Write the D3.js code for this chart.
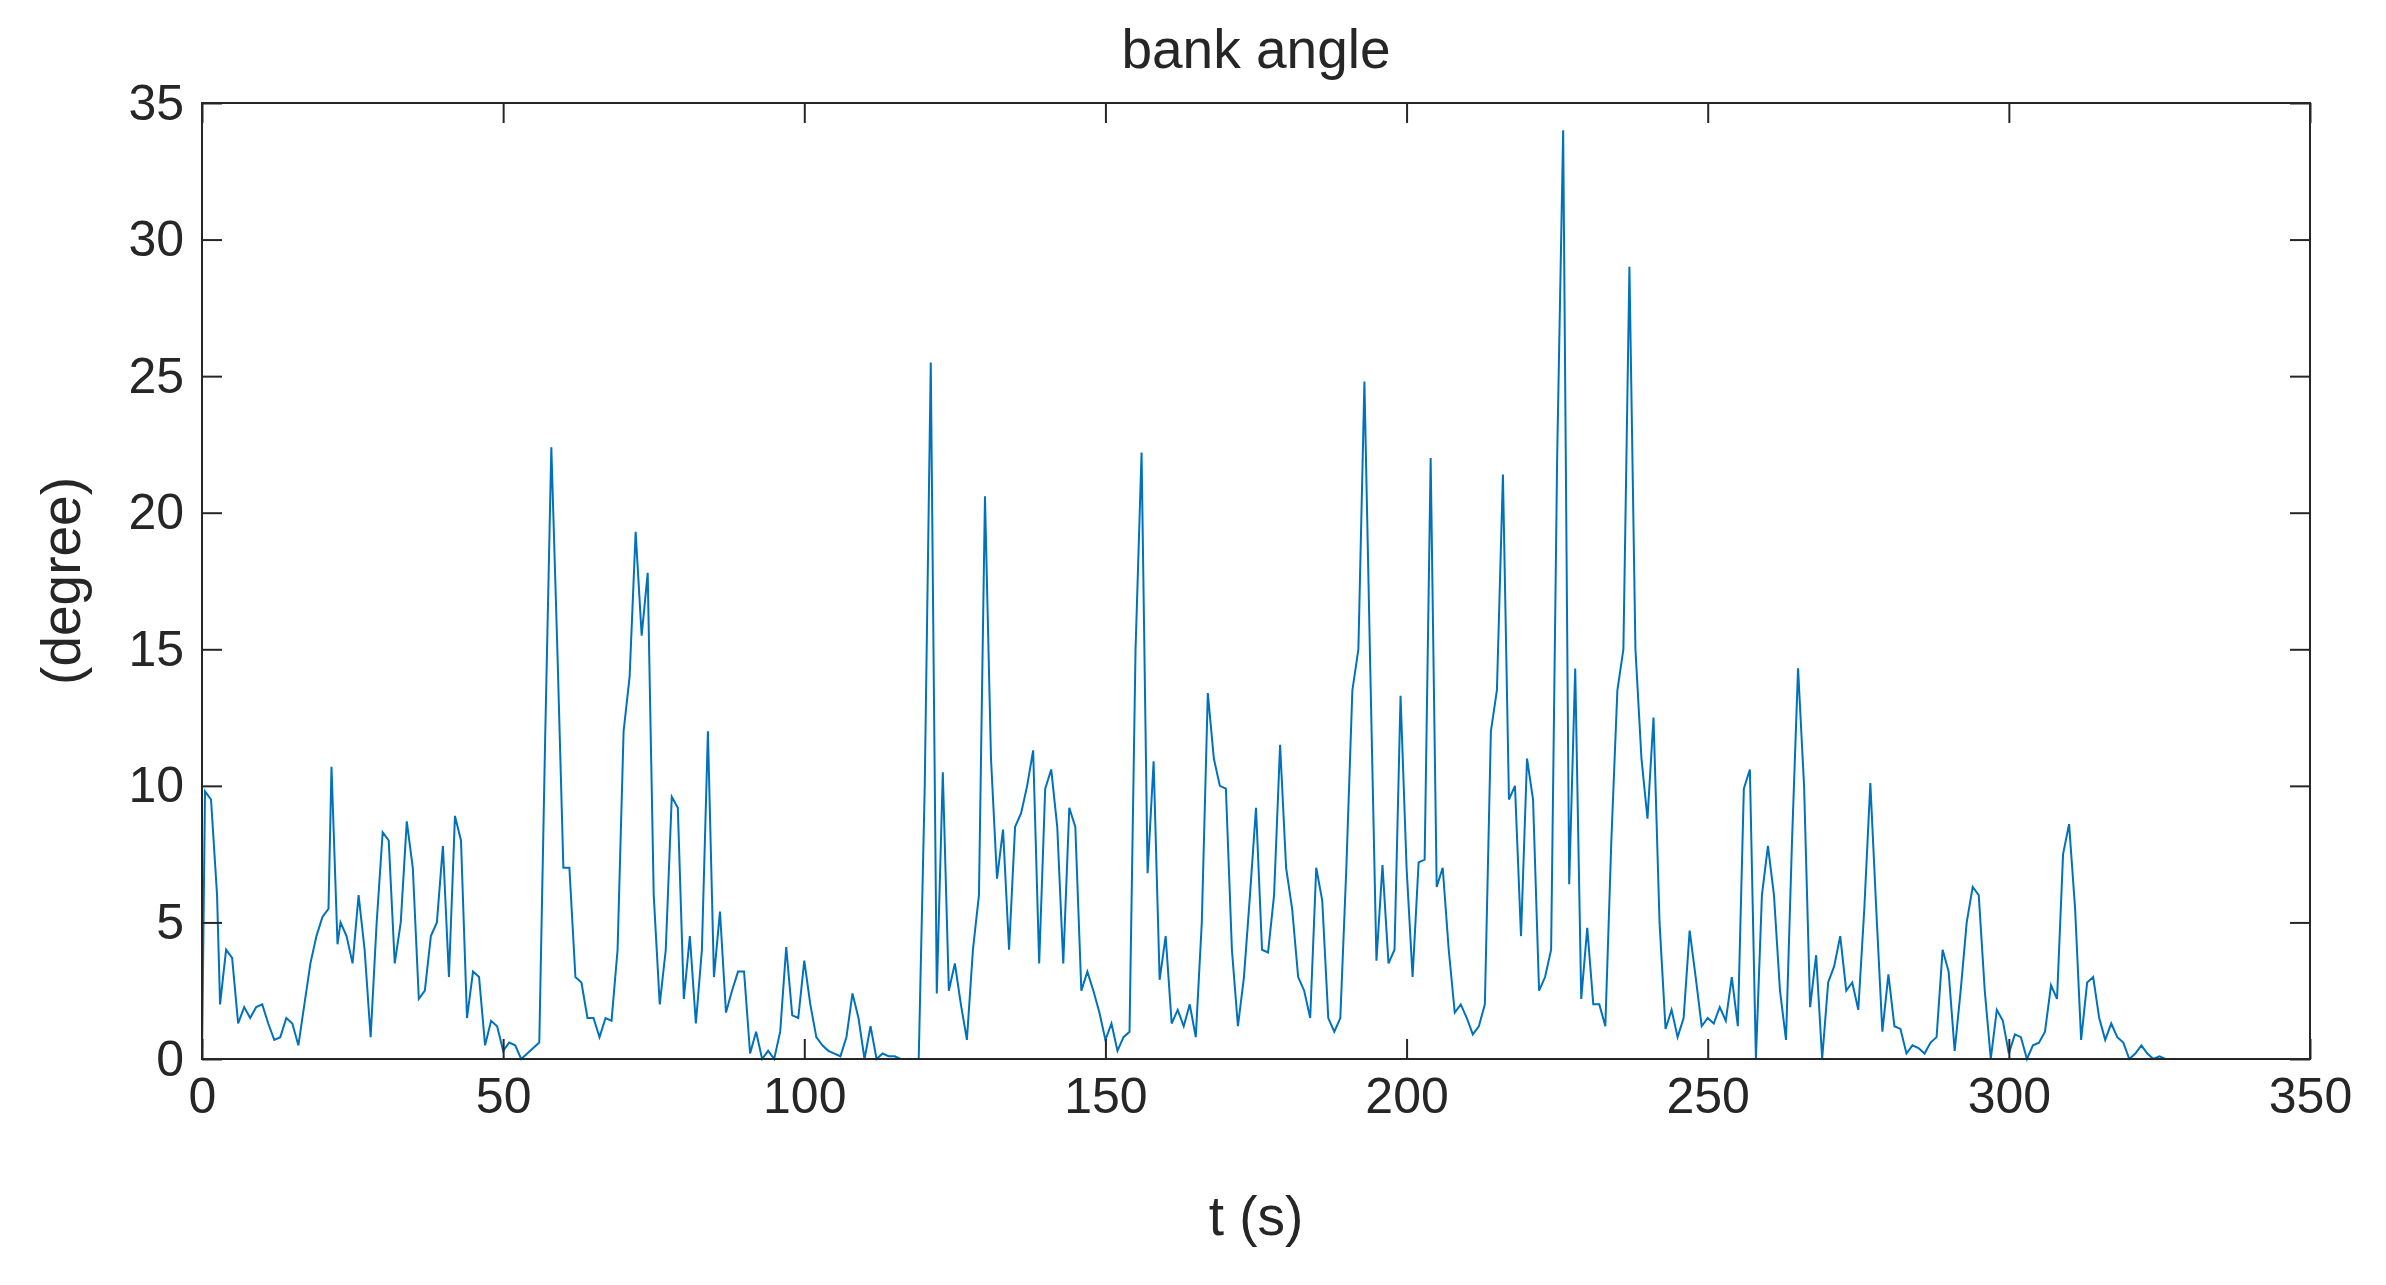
<!DOCTYPE html>
<html lang="en">
<head>
<meta charset="UTF-8">
<title>bank angle</title>
<script src="https://d3js.org/d3.v7.min.js"></script>
<style>
  body { margin: 0; background: #fff; }
  text { font-family: "Liberation Sans", Arial, sans-serif; fill: #262626; }
</style>
</head>
<body>
<svg width="2386" height="1285"></svg>
<script>
// t (s) and bank angle (degree)
const times = [0,0.5,1.5,2.5,3,4,5,6,7,8,9,10,11,12,13,14,15,16,17,18,19,20,21,21.5,22.5,23,24,25,26,27,28,29,30,31,32,33,34,35,36,37,38,39,40,41,42,43,44,45,46,47,48,49,50,51,52,53,54,55,56,57,58,59,60,61,62,63,64,65,66,67,68,69,70,71,72,73,74,75,76,77,78,79,80,81,82,83,84,85,86,87,88,89,90,91,92,93,94,95,96,97,98,99,100,101,102,103,104,105,106,107,108,109,110,111,112,113,114,115,116,118,119,120,121,122,123,124,125,126,127,128,129,130,131,132,133,134,135,136,137,138,139,140,141,142,143,144,145,146,147,148,149,150,151,152,153,154,155,156,157,158,159,160,161,162,163,164,165,166,167,168,169,170,171,172,173,174,175,176,177,178,179,180,181,182,183,184,185,186,187,188,189,190,191,192,193,194,195,196,197,198,199,200,201,202,203,204,205,206,207,208,209,210,211,212,213,214,215,216,217,218,219,220,221,222,223,224,225,226,227,228,229,230,231,232,233,234,235,236,237,238,239,240,241,242,243,244,245,246,247,248,249,250,251,252,253,254,255,256,257,258,259,260,261,262,263,264,265,266,267,268,269,270,271,272,273,274,275,276,277,278,279,280,281,282,283,284,285,286,287,288,289,290,291,292,293,294,295,296,297,298,299,300,301,302,303,304,305,306,307,308,309,310,311,312,313,314,315,316,317,318,319,320,321,322,323,324,325,326,328,330];
const angles = [0,9.8,9.5,6,2,4,3.7,1.3,1.9,1.5,1.9,2,1.3,0.7,0.8,1.5,1.3,0.5,2,3.5,4.5,5.2,5.5,10.7,4.2,5,4.5,3.5,6,4,0.8,5,8.3,8,3.5,5,8.7,7,2.2,2.5,4.5,5,7.8,3,8.9,8,1.5,3.2,3,0.5,1.4,1.2,0.3,0.6,0.5,0,0.2,0.4,0.6,12,22.4,15,7,7,3,2.8,1.5,1.5,0.8,1.5,1.4,4,12,14,19.3,15.5,17.8,6,2,4,9.6,9.2,2.2,4.5,1.3,4,12,3,5.4,1.7,2.5,3.2,3.2,0.2,1,0,0.3,0,1,4.1,1.6,1.5,3.6,2,0.8,0.5,0.3,0.2,0.1,0.8,2.4,1.5,0,1.2,0,0.2,0.1,0.1,0,0,0,10,25.5,2.4,10.5,2.5,3.5,2,0.7,4,6,20.6,11,6.6,8.4,4,8.5,9,10,11.3,3.5,9.9,10.6,8.5,3.5,9.2,8.5,2.5,3.2,2.5,1.7,0.7,1.3,0.3,0.8,1,15,22.2,6.8,10.9,2.9,4.5,1.3,1.8,1.2,2,0.8,5,13.4,11,10,9.9,4,1.2,3,6,9.2,4,3.9,6,11.5,7,5.5,3,2.5,1.5,7,5.8,1.5,1,1.5,7,13.5,15,24.8,14,3.6,7.1,3.5,4,13.3,7,3,7.2,7.3,22,6.3,7,4,1.7,2,1.5,0.9,1.2,2,12,13.5,21.4,9.5,10,4.5,11,9.5,2.5,3,4,22,34,6.4,14.3,2.2,4.8,2,2,1.2,8,13.5,15,29,15,11,8.8,12.5,5,1.1,1.8,0.8,1.5,4.7,3,1.2,1.5,1.3,1.9,1.4,3,1.2,9.9,10.6,0,6,7.8,6,2.5,0.7,8,14.3,10,1.9,3.8,0,2.8,3.4,4.5,2.5,2.8,1.8,5.5,10.1,5.4,1,3.1,1.2,1.1,0.2,0.5,0.4,0.2,0.6,0.8,4,3.2,0.3,2.5,5,6.3,6,2.5,0,1.8,1.4,0.2,0.9,0.8,0,0.5,0.6,1,2.7,2.2,7.5,8.6,5.5,0.7,2.8,3,1.5,0.7,1.3,0.8,0.6,0,0.2,0.5,0.2,0,0.1,0,0,0];
const xTicks = [0,50,100,150,200,250,300,350];
const yTicks = [0,5,10,15,20,25,30,35];

const data = times.map((t, i) => ({ t, v: angles[i] }));
const m = { left: 202, right: 2310, top: 103, bottom: 1059 };
const svg = d3.select("svg");

const x = d3.scaleLinear().domain([0, 350]).range([m.left, m.right]);
const y = d3.scaleLinear().domain([0, 35]).range([m.bottom, m.top]);

svg.append("rect").attr("x", m.left).attr("y", m.top)
  .attr("width", m.right - m.left).attr("height", m.bottom - m.top)
  .attr("fill", "#fff");

svg.append("path").datum(data)
  .attr("fill", "none").attr("stroke", "#0072BD").attr("stroke-width", 2)
  .attr("d", d3.line().x(d => x(d.t)).y(d => y(d.v)));

const tl = 20;
const styleAxis = g => {
  g.select(".domain").remove();
  g.selectAll("line").attr("stroke", "#262626").attr("stroke-width", 2);
  g.selectAll("text").attr("font-size", 50).attr("fill", "#262626")
    .style("font-family", "'Liberation Sans', Arial, sans-serif");
};
svg.append("g").attr("transform", `translate(0,${m.bottom})`)
  .call(d3.axisBottom(x).tickValues(xTicks).tickSizeInner(-tl).tickSizeOuter(0).tickPadding(18))
  .call(styleAxis);
svg.append("g").attr("transform", `translate(0,${m.top})`)
  .call(d3.axisTop(x).tickValues(xTicks).tickSizeInner(-tl).tickSizeOuter(0).tickFormat(""))
  .call(styleAxis);
svg.append("g").attr("transform", `translate(${m.left},0)`)
  .call(d3.axisLeft(y).tickValues(yTicks).tickSizeInner(-tl).tickSizeOuter(0).tickPadding(18))
  .call(styleAxis);
svg.append("g").attr("transform", `translate(${m.right},0)`)
  .call(d3.axisRight(y).tickValues(yTicks).tickSizeInner(-tl).tickSizeOuter(0).tickFormat(""))
  .call(styleAxis);

svg.append("rect").attr("x", m.left).attr("y", m.top)
  .attr("width", m.right - m.left).attr("height", m.bottom - m.top)
  .attr("fill", "none").attr("stroke", "#262626").attr("stroke-width", 2);

svg.append("text").attr("x", (m.left + m.right) / 2).attr("y", 68)
  .attr("text-anchor", "middle").attr("font-size", 55).text("bank angle");
svg.append("text").attr("x", (m.left + m.right) / 2).attr("y", 1235)
  .attr("text-anchor", "middle").attr("font-size", 55).text("t (s)");
svg.append("text").attr("transform", `translate(80,${(m.top + m.bottom) / 2}) rotate(-90)`)
  .attr("text-anchor", "middle").attr("font-size", 55).text("(degree)");
</script>
</body>
</html>
